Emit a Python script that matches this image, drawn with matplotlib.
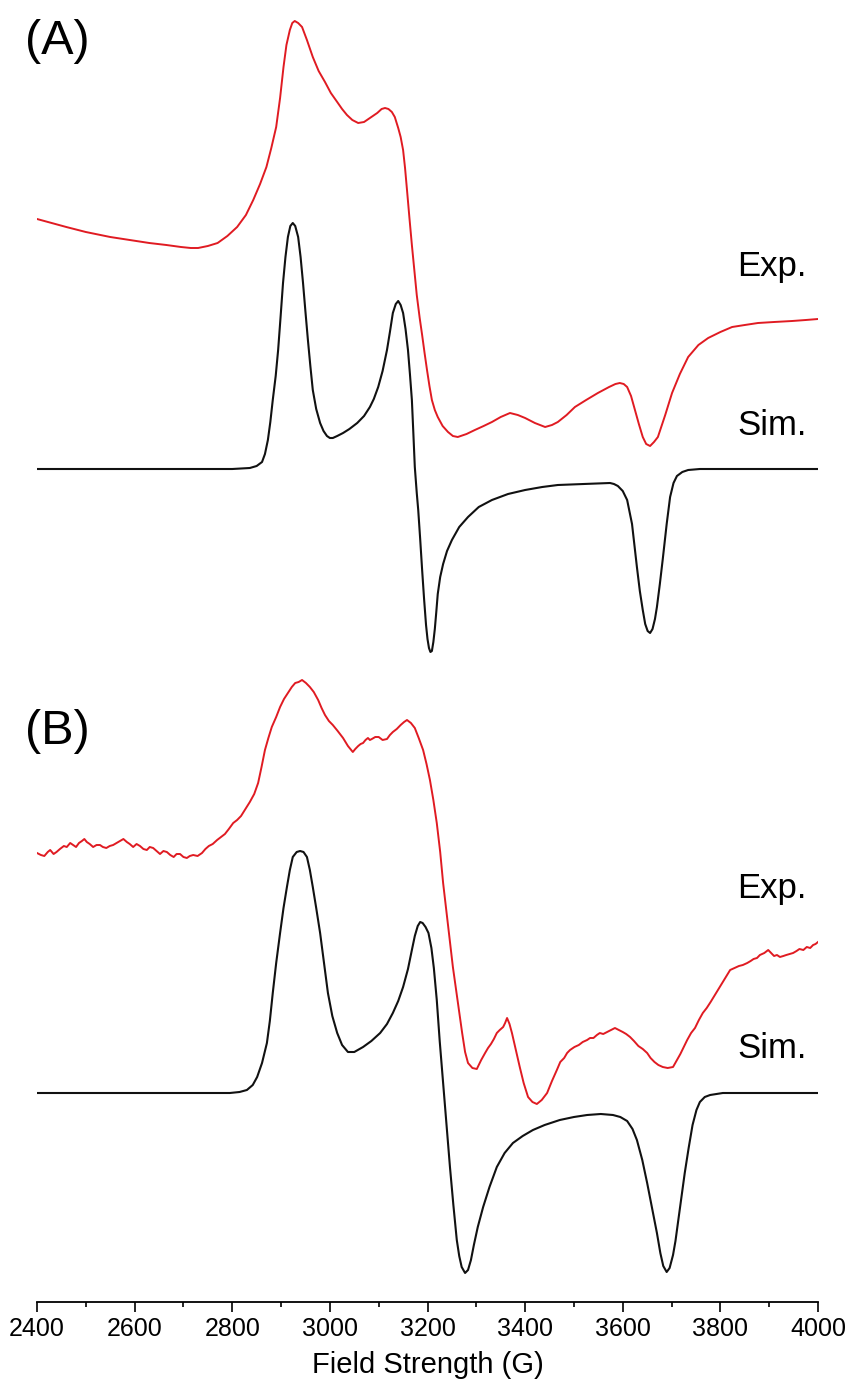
import matplotlib
matplotlib.use("Agg")
import matplotlib.pyplot as plt
from matplotlib.ticker import MultipleLocator

plt.rcParams['font.family'] = ['Liberation Sans', 'DejaVu Sans']

# ---- panel A, experimental (field in G, signal in a.u.) ----
field_a_exp = [2400, 2430, 2460, 2500, 2550, 2590, 2630, 2665, 2695, 2715,
               2730, 2750, 2770, 2790, 2810, 2828, 2843, 2857, 2870, 2880,
               2890, 2898, 2905, 2911, 2918, 2923, 2928, 2935, 2943, 2953,
               2965, 2977, 2990, 3002, 3015, 3025, 3035, 3046, 3058, 3070,
               3082, 3097, 3106, 3113, 3120, 3127, 3133, 3140, 3145, 3150,
               3154, 3158, 3163, 3168, 3173, 3178, 3184, 3189, 3194, 3199,
               3204, 3209, 3215, 3221, 3231, 3242, 3252, 3262, 3280, 3297,
               3315, 3332, 3350, 3369, 3385, 3400, 3420, 3441, 3455, 3467,
               3485, 3502, 3525, 3549, 3572, 3585, 3594, 3602, 3609, 3617,
               3625, 3633, 3641, 3648, 3656, 3664, 3672, 3687, 3701, 3717,
               3734, 3755, 3775, 3800, 3824, 3850, 3877, 3910, 3947, 3975,
               4000]
sig_a_exp = [111, 107, 103, 98, 93, 90, 87, 85, 83, 82,
             82, 84, 87, 94, 103, 115, 130, 146, 163, 182,
             203, 232, 263, 285, 300, 307, 309, 307, 303, 290,
             273, 259, 248, 237, 228, 221, 215, 210, 207, 208,
             212, 217, 221, 222, 221, 218, 213, 202, 193, 180,
             162, 140, 112, 85, 60, 35, 12, -5, -23, -40,
             -56, -70, -80, -87, -96, -102, -106, -107, -104, -100,
             -96, -92, -87, -83, -85, -88, -93, -97, -95, -92,
             -85, -77, -70, -63, -57, -54, -53, -54, -57, -66,
             -80, -94, -107, -114, -116, -112, -107, -85, -63, -44,
             -27, -15, -8, -2, 3, 5, 7, 8, 9, 10,
             11]

# ---- panel A, simulated ----
field_a_sim = [2400, 2800, 2836, 2850, 2861, 2867, 2873, 2878, 2883, 2889,
               2894, 2899, 2904, 2909, 2914, 2919, 2924, 2929, 2935, 2940,
               2945, 2950, 2955, 2960, 2965, 2972, 2980, 2987, 2994, 3000,
               3006, 3015, 3027, 3040, 3056, 3070, 3082, 3090, 3099, 3108,
               3117, 3123, 3129, 3135, 3140, 3145, 3150, 3155, 3160, 3164,
               3168, 3171, 3174, 3178, 3181, 3185, 3189, 3193, 3197, 3200,
               3203, 3206, 3209, 3212, 3215, 3218, 3221, 3226, 3232, 3240,
               3250, 3265, 3283, 3305, 3332, 3365, 3400, 3435, 3467, 3520,
               3574, 3582, 3590, 3600, 3609, 3619, 3629, 3635, 3641, 3646,
               3651, 3656, 3661, 3666, 3670, 3676, 3682, 3690, 3697, 3704,
               3711, 3722, 3734, 3758, 4000]
sig_a_sim = [0, 0, 1, 3, 7, 15, 29, 47, 69, 93,
             119, 152, 186, 212, 232, 243, 246, 243, 232, 212,
             186, 157, 129, 103, 79, 60, 46, 38, 33, 31,
             31, 33, 36, 40, 46, 53, 62, 70, 82, 98,
             119, 137, 156, 165, 168, 164, 156, 140, 119, 95,
             69, 36, 2, -24, -41, -70, -101, -130, -156, -170,
             -179, -183, -182, -173, -160, -143, -125, -108, -95, -82,
             -71, -58, -48, -38, -31, -25, -21, -18, -16, -15,
             -14, -15, -17, -22, -31, -55, -98, -122, -141, -155,
             -162, -164, -160, -150, -138, -115, -90, -55, -28, -14,
             -7, -3, -1, 0, 0]

# ---- panel B, experimental ----
field_b_exp = [2400, 2408, 2415, 2422, 2427, 2434, 2440, 2447, 2455, 2461,
               2468, 2474, 2480, 2486, 2492, 2497, 2502, 2508, 2515, 2522,
               2529, 2535, 2542, 2549, 2556, 2563, 2570, 2577, 2584, 2590,
               2597, 2604, 2611, 2618, 2625, 2631, 2638, 2645, 2652, 2659,
               2666, 2673, 2680, 2686, 2693, 2700, 2707, 2713, 2720, 2729,
               2738, 2745, 2752, 2760, 2769, 2777, 2785, 2793, 2802, 2810,
               2818, 2827, 2836, 2845, 2853, 2860, 2867, 2874, 2881, 2890,
               2898, 2906, 2914, 2922, 2929, 2936, 2943, 2951, 2959, 2967,
               2976, 2983, 2990, 2998, 3006, 3016, 3027, 3037, 3047, 3052,
               3058, 3063, 3068, 3073, 3078, 3082, 3086, 3093, 3100, 3108,
               3117, 3123, 3129, 3137, 3145, 3152, 3158, 3166, 3174, 3182,
               3191, 3198, 3205, 3212, 3219, 3226, 3232, 3242, 3252, 3262,
               3271, 3277, 3283, 3292, 3301, 3310, 3318, 3324, 3330, 3336,
               3342, 3348, 3355, 3359, 3363, 3368, 3373, 3381, 3389, 3397,
               3406, 3415, 3424, 3434, 3445, 3455, 3465, 3472, 3480, 3486,
               3492, 3501, 3510, 3518, 3527, 3533, 3540, 3547, 3553, 3560,
               3568, 3576, 3584, 3592, 3600, 3607, 3615, 3623, 3632, 3641,
               3650, 3657, 3665, 3673, 3682, 3692, 3703, 3710, 3718, 3725,
               3732, 3740, 3748, 3756, 3764, 3772, 3780, 3790, 3799, 3810,
               3820, 3829, 3838, 3846, 3855, 3862, 3868, 3875, 3881, 3890,
               3898, 3904, 3910, 3916, 3922, 3929, 3935, 3942, 3949, 3956,
               3962, 3970, 3977, 3984, 3990, 3995, 4000]
sig_b_exp = [107, 105, 104, 108, 110, 106, 108, 111, 114, 113,
             117, 115, 113, 117, 119, 121, 118, 116, 113, 115,
             115, 113, 112, 114, 115, 117, 119, 121, 118, 116,
             113, 116, 114, 111, 110, 113, 112, 109, 106, 109,
             108, 105, 103, 106, 106, 103, 102, 104, 105, 104,
             107, 111, 114, 116, 120, 123, 126, 131, 137, 140,
             144, 151, 158, 166, 177, 193, 210, 222, 233, 243,
             253, 261, 267, 273, 277, 278, 280, 277, 273, 268,
             260, 252, 245, 239, 235, 229, 222, 214, 208, 211,
             214, 216, 217, 220, 222, 220, 221, 223, 223, 220,
             221, 225, 228, 231, 235, 238, 240, 237, 232, 222,
             210, 196, 180, 160, 137, 108, 77, 35, -7, -42,
             -73, -92, -103, -108, -109, -100, -93, -88, -84, -79,
             -73, -70, -67, -63, -58, -64, -73, -90, -107, -123,
             -137, -142, -144, -140, -133, -121, -110, -102, -98, -93,
             -90, -87, -85, -82, -80, -78, -78, -75, -73, -74,
             -72, -70, -68, -70, -72, -74, -77, -81, -86, -89,
             -93, -98, -102, -105, -107, -108, -107, -101, -94, -87,
             -80, -73, -68, -60, -53, -48, -42, -34, -27, -18,
             -10, -8, -6, -5, -3, -1, 1, 2, 5, 7,
             10, 7, 4, 5, 3, 4, 5, 6, 7, 9,
             11, 10, 13, 12, 15, 16, 18]

# ---- panel B, simulated ----
field_b_sim = [2400, 2795, 2815, 2830, 2842, 2851, 2861, 2871, 2877, 2883,
               2890, 2898, 2905, 2912, 2918, 2924, 2932, 2939, 2946, 2953,
               2959, 2965, 2972, 2980, 2988, 2996, 3005, 3015, 3025, 3037,
               3050, 3068, 3085, 3103, 3117, 3129, 3140, 3150, 3160, 3168,
               3174, 3180, 3185, 3190, 3196, 3202, 3208, 3213, 3219, 3225,
               3232, 3239, 3246, 3253, 3260, 3265, 3270, 3277, 3283, 3289,
               3295, 3303, 3314, 3327, 3342, 3358, 3375, 3395, 3416, 3440,
               3471, 3500, 3527, 3555, 3580, 3595, 3609, 3620, 3629, 3640,
               3650, 3660, 3670, 3677, 3683, 3690, 3696, 3703, 3708, 3713,
               3720, 3727, 3735, 3743, 3751, 3758, 3768, 3779, 3805, 4000]
sig_b_sim = [0, 0, 1, 3, 8, 16, 30, 50, 72, 100,
             130, 160, 185, 206, 223, 236, 241, 242, 241, 236,
             223, 206, 185, 160, 130, 100, 77, 60, 48, 41,
             41, 46, 52, 60, 69, 80, 92, 106, 124, 143,
             157, 167, 171, 170, 166, 160, 145, 125, 93, 52,
             10, -32, -74, -112, -147, -163, -174, -180, -177, -167,
             -152, -134, -114, -94, -74, -60, -50, -43, -37, -32,
             -27, -24, -22, -21, -22, -24, -28, -36, -47, -67,
             -90, -115, -140, -160, -173, -179, -175, -162, -148, -130,
             -105, -80, -55, -32, -17, -9, -4, -2, 0, 0]

# vertical offsets used to stack the spectra
offsets = {'a_exp': 972, 'a_sim': 833, 'b_exp': 342, 'b_sim': 209}

RED = '#e01b22'
BLACK = '#111111'

fig = plt.figure(figsize=(8.51, 13.91), dpi=100)
ax = fig.add_axes([37 / 851, 89 / 1391, 781 / 851, 1302 / 1391])

ax.plot(field_a_exp, [v + offsets['a_exp'] for v in sig_a_exp], color=RED, lw=1.4)
ax.plot(field_a_sim, [v + offsets['a_sim'] for v in sig_a_sim], color=BLACK, lw=1.5)
ax.plot(field_b_exp, [v + offsets['b_exp'] for v in sig_b_exp], color=RED, lw=1.4)
ax.plot(field_b_sim, [v + offsets['b_sim'] for v in sig_b_sim], color=BLACK, lw=1.5)

ax.set_xlim(2400, 4000)
ax.set_ylim(0, 1302)

for s in ('left', 'right', 'top'):
    ax.spines[s].set_visible(False)
ax.spines['bottom'].set_linewidth(1.3)
ax.set_yticks([])
ax.xaxis.set_major_locator(MultipleLocator(200))
ax.xaxis.set_minor_locator(MultipleLocator(100))
ax.tick_params(axis='x', which='major', direction='out', length=7, width=1.2,
               labelsize=18, pad=4)
ax.tick_params(axis='x', which='minor', direction='out', length=3.6, width=1.2)
ax.set_xlabel('Field Strength (G)', fontsize=21, labelpad=7)

ax.text(2441, 1260, '(A)', fontsize=35, ha='center', va='center')
ax.text(2441, 571, '(B)', fontsize=35, ha='center', va='center')
ax.text(3834, 1026, 'Exp.', fontsize=25, ha='left', va='baseline')
ax.text(3834, 867, 'Sim.', fontsize=25, ha='left', va='baseline')
ax.text(3834, 404, 'Exp.', fontsize=25, ha='left', va='baseline')
ax.text(3834, 244, 'Sim.', fontsize=25, ha='left', va='baseline')

fig.savefig('out.png', dpi=100, facecolor='white')
